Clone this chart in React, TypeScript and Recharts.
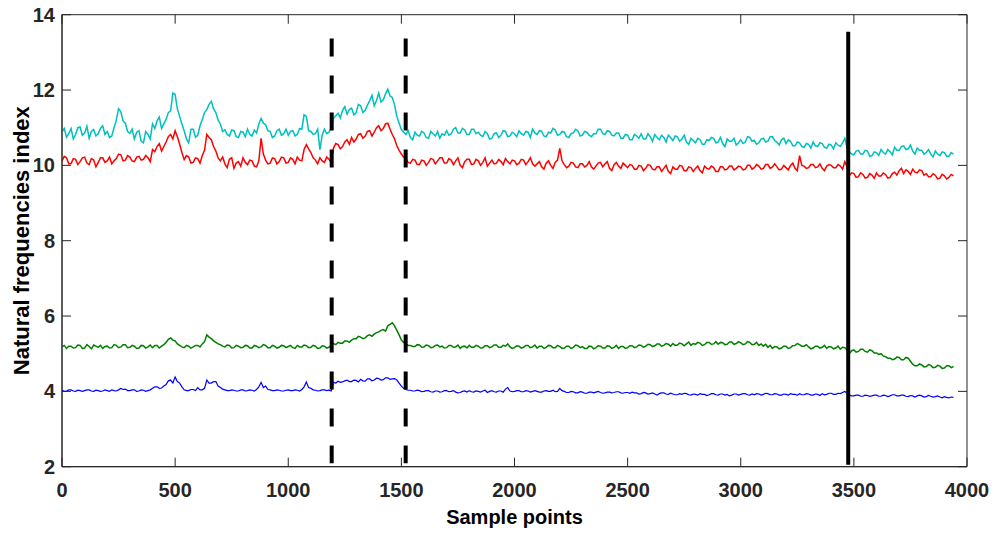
import React from 'react';
import { LineChart, Line, XAxis, YAxis, ReferenceLine, ReferenceArea, Label } from 'recharts';

// sample positions: every 10th sample point, starting at 0
const sampleStart = 0;
const sampleStep = 10;

const cyanSeries = [
  10.88, 10.98, 10.75, 10.84, 10.98, 10.7, 10.82, 11.0, 11.02, 10.8,
  10.86, 11.04, 10.72, 10.9, 10.95, 10.78, 10.84, 10.98, 11.05, 10.82,
  10.9, 10.74, 10.78, 11.0, 11.2, 11.5, 11.42, 11.18, 11.12, 10.9,
  10.85, 10.96, 10.7, 10.88, 10.92, 10.64, 10.6, 10.9, 10.82, 10.7,
  11.1, 10.98, 11.18, 11.28, 10.98, 11.1, 11.22, 11.4, 11.45, 11.92,
  11.88, 11.5, 11.3, 11.1, 10.92, 10.7, 10.6, 10.96, 10.96, 10.75,
  10.8, 11.05, 11.22, 11.4, 11.48, 11.62, 11.7, 11.5, 11.4, 11.2,
  11.1, 10.9, 10.95, 10.82, 10.78, 10.94, 10.92, 10.76, 10.74, 10.9,
  10.88, 10.76, 10.96, 10.82, 10.78, 10.94, 10.86, 11.1, 11.25, 11.12,
  11.08, 10.92, 10.9, 10.74, 10.78, 10.92, 10.96, 10.8, 10.84, 10.96,
  10.8, 10.9, 10.92, 10.78, 10.82, 10.98, 10.96, 11.34, 11.3, 10.92,
  10.9, 10.82, 10.84, 10.96, 10.42, 10.8, 10.96, 10.84, 10.88, 11.0,
  11.25, 11.32, 11.38, 11.26, 11.46, 11.56, 11.36, 11.48, 11.52, 11.34,
  11.4, 11.62, 11.58, 11.4, 11.46, 11.6, 11.72, 11.86, 11.58, 11.72,
  11.92, 11.68, 11.74, 11.9, 12.02, 11.84, 11.8, 11.6, 11.3, 11.12,
  10.95, 10.88, 10.82, 10.92, 10.74, 10.68, 10.88, 10.8, 10.78, 10.9,
  10.86, 10.74, 10.72, 10.9, 10.84, 10.78, 10.9, 10.72, 10.84, 10.8,
  10.92, 10.8, 10.84, 10.96, 11.0, 10.86, 10.86, 10.98, 10.94, 10.82,
  10.82, 10.96, 10.96, 10.84, 10.88, 10.8, 10.76, 10.9, 10.84, 10.7,
  10.72, 10.84, 10.86, 10.74, 10.8, 10.92, 10.9, 10.76, 10.78, 10.88,
  10.84, 10.76, 10.92, 10.84, 10.8, 10.9, 10.88, 10.74, 10.96, 10.86,
  10.82, 10.92, 10.9, 10.78, 10.76, 10.88, 10.86, 10.98, 10.94, 10.8,
  10.82, 10.9, 10.88, 10.76, 10.74, 10.84, 10.86, 10.96, 10.92, 10.78,
  10.8, 10.9, 10.88, 10.8, 10.76, 10.84, 10.84, 10.96, 10.96, 10.84,
  10.82, 10.92, 10.9, 10.8, 10.78, 10.86, 10.86, 10.72, 10.72, 10.82,
  10.8, 10.68, 10.68, 10.82, 10.78, 10.72, 10.84, 10.7, 10.7, 10.84,
  10.76, 10.64, 10.82, 10.74, 10.68, 10.8, 10.74, 10.62, 10.8, 10.74,
  10.66, 10.78, 10.76, 10.64, 10.7, 10.8, 10.62, 10.56, 10.72, 10.66,
  10.6, 10.72, 10.68, 10.56, 10.56, 10.68, 10.66, 10.74, 10.72, 10.6,
  10.62, 10.74, 10.58, 10.5, 10.7, 10.64, 10.64, 10.72, 10.54, 10.6,
  10.68, 10.58, 10.62, 10.76, 10.74, 10.64, 10.66, 10.56, 10.6, 10.7,
  10.72, 10.62, 10.64, 10.76, 10.76, 10.66, 10.62, 10.54, 10.68, 10.72,
  10.58, 10.68, 10.64, 10.52, 10.52, 10.62, 10.6, 10.5, 10.48, 10.58,
  10.56, 10.46, 10.62, 10.52, 10.5, 10.6, 10.58, 10.48, 10.46, 10.56,
  10.54, 10.44, 10.6, 10.54, 10.5, 10.6, 10.72, 10.46, 10.36, 10.3,
  10.28, 10.38, 10.4, 10.3, 10.3, 10.4, 10.38, 10.24, 10.26, 10.36,
  10.34, 10.26, 10.42, 10.34, 10.3, 10.42, 10.36, 10.28, 10.48, 10.4,
  10.4, 10.5, 10.52, 10.42, 10.44, 10.54, 10.38, 10.3, 10.46, 10.4,
  10.4, 10.3, 10.34, 10.42, 10.3, 10.22, 10.38, 10.3, 10.26, 10.36,
  10.34, 10.24, 10.24, 10.34, 10.3,
];

const redSeries = [
  10.12, 10.24, 10.2, 10.04, 10.05, 10.18, 10.16, 10.02, 10.1, 10.2,
  10.22, 10.06, 10.02, 10.18, 10.14, 9.96, 10.08, 10.2, 10.2, 10.08,
  10.12, 10.22, 10.04, 10.12, 10.18, 10.3, 10.28, 10.12, 10.14, 10.26,
  10.22, 10.12, 10.1, 10.22, 10.24, 10.14, 10.16, 10.26, 10.2, 10.1,
  10.42, 10.36, 10.5, 10.58, 10.38, 10.5, 10.62, 10.76, 10.82, 10.7,
  10.92, 10.76, 10.56, 10.34, 10.15, 10.26, 10.22, 10.06, 10.08, 10.2,
  10.18, 10.06, 10.26, 10.4, 10.82, 10.74, 10.68, 10.5, 10.38, 10.2,
  10.12, 10.22, 10.04, 9.94, 10.16, 10.2, 9.92, 10.06, 10.1, 9.98,
  10.2, 10.08, 10.02, 10.14, 10.12, 9.98, 9.96, 10.12, 10.72, 10.3,
  10.14, 10.04, 10.06, 10.2, 10.18, 10.04, 10.1, 10.22, 10.2, 10.06,
  10.08, 10.2, 10.16, 10.04, 10.22, 10.14, 10.12, 10.42, 10.55, 10.44,
  10.34, 10.2, 10.14, 10.04, 10.2, 10.12, 10.08, 10.22, 10.16, 10.08,
  10.46, 10.58, 10.55, 10.44, 10.5, 10.62, 10.68, 10.56, 10.74, 10.62,
  10.7, 10.82, 10.84, 10.72, 10.78, 10.9, 10.92, 10.78, 10.88, 11.0,
  11.05, 10.92, 10.98, 11.1, 11.12, 10.96, 10.82, 10.7, 10.52, 10.4,
  10.3, 10.22, 10.18, 10.08, 10.06, 10.16, 10.14, 10.02, 10.02, 10.14,
  10.12, 10.0, 10.08, 10.18, 10.16, 10.04, 10.12, 10.2, 10.2, 10.06,
  10.06, 10.18, 10.14, 10.02, 10.12, 10.2, 10.0, 9.94, 10.1, 10.16,
  10.16, 10.02, 10.04, 10.16, 10.12, 10.0, 10.08, 10.2, 9.98, 10.06,
  10.14, 10.04, 10.06, 10.16, 10.1, 10.02, 10.18, 10.1, 10.04, 10.14,
  10.12, 10.02, 10.06, 10.16, 10.14, 10.02, 10.1, 10.2, 10.04, 9.98,
  10.04, 10.1, 9.96, 9.9, 10.06, 10.12, 10.0, 9.92, 10.08, 10.14,
  10.45, 10.12, 10.02, 9.94, 9.98, 10.08, 10.06, 9.96, 9.94, 10.04,
  10.04, 9.96, 10.0, 10.1, 9.96, 9.9, 9.98, 10.06, 10.08, 9.96,
  10.04, 10.1, 9.92, 9.86, 10.02, 10.08, 9.98, 9.92, 10.06, 10.0,
  9.94, 10.02, 10.0, 9.9, 9.9, 10.0, 9.98, 9.86, 9.92, 10.02,
  10.0, 9.9, 9.88, 9.96, 9.96, 9.84, 9.92, 10.0, 9.84, 9.78,
  9.96, 9.9, 9.9, 10.0, 9.98, 9.86, 9.86, 9.96, 9.94, 9.84,
  9.92, 9.98, 9.86, 9.8, 9.98, 9.92, 9.9, 9.98, 9.94, 9.84,
  9.84, 9.96, 9.96, 9.88, 9.9, 9.98, 9.98, 9.88, 9.92, 9.98,
  9.96, 9.88, 9.9, 10.0, 10.0, 9.9, 9.94, 10.02, 9.98, 9.9,
  9.92, 10.02, 10.02, 9.92, 9.96, 10.04, 9.96, 9.88, 9.9, 10.0,
  9.94, 9.88, 10.0, 10.06, 9.92, 9.86, 10.26, 10.0, 9.98, 9.92,
  9.94, 10.02, 10.02, 9.94, 9.96, 10.04, 9.92, 9.86, 9.98, 10.02,
  10.0, 9.94, 9.94, 10.02, 9.98, 9.9, 10.1, 9.96, 9.72, 9.8,
  9.78, 9.68, 9.7, 9.8, 9.76, 9.66, 9.68, 9.78, 9.74, 9.66,
  9.8, 9.72, 9.72, 9.8, 9.76, 9.66, 9.68, 9.78, 9.82, 9.74,
  9.86, 9.92, 9.78, 9.88, 9.84, 9.76, 9.9, 9.82, 9.8, 9.88,
  9.86, 9.74, 9.78, 9.7, 9.7, 9.78, 9.74, 9.64, 9.66, 9.76,
  9.72, 9.64, 9.68, 9.76, 9.72,
];

const greenSeries = [
  5.18, 5.22, 5.14, 5.2, 5.2, 5.15, 5.16, 5.23, 5.22, 5.14,
  5.15, 5.24, 5.19, 5.13, 5.23, 5.2, 5.17, 5.22, 5.14, 5.19,
  5.2, 5.15, 5.16, 5.24, 5.22, 5.16, 5.18, 5.24, 5.24, 5.16,
  5.17, 5.22, 5.2, 5.14, 5.15, 5.22, 5.21, 5.15, 5.18, 5.23,
  5.16, 5.22, 5.22, 5.15, 5.2, 5.24, 5.3, 5.38, 5.42, 5.36,
  5.34, 5.26, 5.22, 5.18, 5.16, 5.22, 5.2, 5.15, 5.18, 5.22,
  5.22, 5.18, 5.26, 5.32, 5.5, 5.44, 5.4, 5.34, 5.3, 5.26,
  5.24, 5.2, 5.18, 5.23, 5.22, 5.15, 5.16, 5.22, 5.2, 5.16,
  5.17, 5.22, 5.21, 5.15, 5.15, 5.22, 5.2, 5.16, 5.18, 5.24,
  5.22, 5.16, 5.16, 5.22, 5.2, 5.15, 5.17, 5.22, 5.21, 5.16,
  5.19, 5.22, 5.16, 5.14, 5.22, 5.18, 5.18, 5.23, 5.21, 5.16,
  5.17, 5.22, 5.2, 5.14, 5.15, 5.21, 5.2, 5.15, 5.17, 5.22,
  5.27, 5.24, 5.3, 5.28, 5.28, 5.34, 5.34, 5.3, 5.36, 5.4,
  5.4, 5.46, 5.44, 5.4, 5.42, 5.48, 5.5, 5.46, 5.52, 5.56,
  5.58, 5.62, 5.64, 5.6, 5.74, 5.78, 5.82, 5.74, 5.62, 5.5,
  5.36, 5.3, 5.26, 5.22, 5.22, 5.19, 5.19, 5.24, 5.23, 5.17,
  5.18, 5.23, 5.21, 5.16, 5.17, 5.22, 5.23, 5.18, 5.2, 5.15,
  5.16, 5.22, 5.22, 5.17, 5.18, 5.23, 5.14, 5.19, 5.2, 5.15,
  5.22, 5.17, 5.17, 5.22, 5.2, 5.15, 5.16, 5.21, 5.21, 5.16,
  5.18, 5.23, 5.23, 5.17, 5.17, 5.22, 5.2, 5.26, 5.18, 5.14,
  5.16, 5.21, 5.2, 5.15, 5.17, 5.22, 5.22, 5.16, 5.18, 5.23,
  5.15, 5.2, 5.2, 5.14, 5.17, 5.22, 5.21, 5.16, 5.16, 5.22,
  5.19, 5.14, 5.15, 5.2, 5.2, 5.14, 5.17, 5.23, 5.21, 5.16,
  5.19, 5.14, 5.14, 5.2, 5.19, 5.13, 5.16, 5.21, 5.2, 5.15,
  5.15, 5.21, 5.2, 5.14, 5.17, 5.22, 5.14, 5.19, 5.19, 5.14,
  5.16, 5.21, 5.21, 5.16, 5.18, 5.23, 5.22, 5.17, 5.2, 5.25,
  5.24, 5.19, 5.21, 5.26, 5.26, 5.2, 5.22, 5.27, 5.25, 5.2,
  5.27, 5.22, 5.23, 5.28, 5.26, 5.21, 5.26, 5.31, 5.22, 5.27,
  5.25, 5.3, 5.28, 5.22, 5.24, 5.3, 5.3, 5.25, 5.26, 5.32,
  5.25, 5.3, 5.29, 5.24, 5.25, 5.31, 5.31, 5.25, 5.27, 5.32,
  5.29, 5.24, 5.26, 5.32, 5.3, 5.24, 5.25, 5.3, 5.22, 5.26,
  5.2, 5.25, 5.17, 5.22, 5.14, 5.19, 5.18, 5.13, 5.15, 5.2,
  5.2, 5.14, 5.16, 5.21, 5.22, 5.27, 5.24, 5.2, 5.2, 5.24,
  5.18, 5.13, 5.15, 5.2, 5.2, 5.15, 5.17, 5.22, 5.14, 5.19,
  5.18, 5.13, 5.15, 5.2, 5.12, 5.17, 5.16, 5.1, 5.0, 5.08,
  5.1, 5.04, 5.06, 5.12, 5.12, 5.06, 5.04, 5.1, 5.08, 5.02,
  5.02, 4.98, 5.0, 4.94, 4.92, 4.88, 4.88, 4.84, 4.86, 4.91,
  4.9, 4.84, 4.84, 4.9, 4.88, 4.8, 4.72, 4.68, 4.68, 4.73,
  4.7, 4.65, 4.66, 4.71, 4.69, 4.63, 4.64, 4.69, 4.67, 4.61,
  4.62, 4.68, 4.68, 4.63, 4.66,
];

const blueSeries = [
  4.03, 4.0, 4.01, 4.04, 4.04, 4.01, 4.0, 4.03, 4.02, 4.0,
  4.02, 4.04, 4.04, 4.01, 4.0, 4.03, 4.02, 4.0, 4.01, 4.04,
  4.02, 4.0, 4.04, 4.02, 4.01, 4.04, 4.08, 4.05, 4.06, 4.02,
  4.02, 4.04, 4.04, 4.0, 4.01, 4.04, 4.03, 4.0, 4.02, 4.04,
  4.08, 4.12, 4.12, 4.08, 4.09, 4.14, 4.18, 4.28, 4.3, 4.22,
  4.38, 4.26, 4.22, 4.12, 4.04, 4.02, 4.02, 4.05, 4.05, 4.02,
  4.1, 4.04, 4.04, 4.08, 4.3, 4.22, 4.22, 4.26, 4.26, 4.14,
  4.1, 4.06, 4.04, 4.02, 4.02, 4.04, 4.03, 4.01, 4.01, 4.04,
  4.04, 4.01, 4.02, 4.04, 4.03, 4.01, 4.05, 4.12, 4.24, 4.1,
  4.14, 4.05, 4.04, 4.02, 4.02, 4.04, 4.03, 4.01, 4.01, 4.03,
  4.04, 4.02, 4.02, 4.04, 4.03, 4.01, 4.05, 4.12, 4.25, 4.1,
  4.08, 4.04, 4.03, 4.01, 4.02, 4.04, 4.04, 4.02, 4.03, 4.01,
  4.24, 4.22, 4.27, 4.24, 4.25, 4.28, 4.3, 4.26, 4.26, 4.3,
  4.29, 4.25, 4.32, 4.28, 4.27, 4.33, 4.33, 4.28, 4.3, 4.35,
  4.34, 4.3, 4.31, 4.36, 4.36, 4.32, 4.33, 4.34, 4.3, 4.22,
  4.14, 4.08, 4.05, 4.03, 4.03, 4.01, 4.01, 4.03, 4.02, 3.99,
  4.0, 4.02, 4.02, 3.99, 3.98, 4.01, 4.01, 3.98, 3.99, 4.02,
  4.02, 3.99, 4.0, 4.02, 3.98, 3.96, 3.97, 4.0, 4.01, 3.98,
  4.02, 3.99, 3.98, 4.01, 4.0, 3.98, 4.01, 4.03, 3.97, 4.0,
  4.02, 3.99, 3.98, 4.01, 4.01, 3.98, 4.06, 4.1, 4.01, 3.99,
  4.0, 4.02, 4.02, 3.99, 3.99, 4.02, 4.01, 3.98, 4.0, 4.02,
  4.0, 3.98, 3.98, 4.01, 4.02, 4.0, 4.0, 4.03, 3.99, 4.0,
  4.08, 4.02, 4.0, 3.97, 3.97, 4.0, 3.99, 3.96, 3.96, 3.99,
  3.98, 3.95, 3.95, 3.98, 3.98, 3.96, 3.98, 4.0, 3.97, 3.95,
  3.96, 3.98, 3.98, 3.96, 3.97, 3.99, 3.99, 3.96, 3.95, 3.97,
  3.97, 3.95, 3.98, 3.96, 3.96, 3.93, 3.94, 3.97, 3.96, 3.93,
  3.94, 3.96, 3.93, 3.9, 3.94, 3.96, 3.96, 3.93, 3.92, 3.95,
  3.93, 3.91, 3.91, 3.94, 3.92, 3.95, 3.94, 3.91, 3.9, 3.93,
  3.92, 3.9, 3.94, 3.92, 3.92, 3.89, 3.91, 3.94, 3.94, 3.91,
  3.9, 3.93, 3.93, 3.9, 3.92, 3.88, 3.9, 3.93, 3.93, 3.9,
  3.92, 3.94, 3.94, 3.91, 3.9, 3.93, 3.91, 3.94, 3.93, 3.9,
  3.92, 3.95, 3.94, 3.91, 3.91, 3.94, 3.93, 3.9, 3.9, 3.93,
  3.92, 3.9, 3.94, 3.92, 3.92, 3.9, 3.94, 3.91, 3.91, 3.94,
  3.93, 3.9, 3.9, 3.93, 3.92, 3.89, 3.94, 3.91, 3.92, 3.95,
  3.95, 3.92, 3.92, 3.95, 3.94, 3.97, 4.0, 3.95, 3.9, 3.88,
  3.88, 3.9, 3.9, 3.87, 3.87, 3.9, 3.89, 3.87, 3.88, 3.9,
  3.9, 3.87, 3.87, 3.9, 3.89, 3.86, 3.88, 3.91, 3.91, 3.88,
  3.88, 3.9, 3.9, 3.87, 3.86, 3.89, 3.88, 3.85, 3.88, 3.9,
  3.88, 3.85, 3.86, 3.89, 3.87, 3.85, 3.86, 3.88, 3.85, 3.83,
  3.86, 3.84, 3.83, 3.85, 3.84,
];

const xTicks = [0, 500, 1000, 1500, 2000, 2500, 3000, 3500, 4000];
const yTicks = [2, 4, 6, 8, 10, 12, 14];
const xDomain = [0, 4000];
const yDomain = [2, 14];

// event markers: [sample position, lower value, upper value]
const dashedMarkers = [
  [1192, 2.09, 13.37],
  [1519, 2.09, 13.37],
];
const solidMarkers = [[3475, 2.05, 13.55]];

const data = cyanSeries.map((c, i) => ({
  x: sampleStart + i * sampleStep,
  cyan: c,
  red: redSeries[i],
  green: greenSeries[i],
  blue: blueSeries[i],
}));

const CHART_W = 995;
const CHART_H = 535;
const MARGIN = { top: 14.7, right: 28, left: 0, bottom: 0 };
const PLOT_W = CHART_W - MARGIN.right - 62;
const PLOT_H = CHART_H - MARGIN.top - 68.3;
// inward tick length (about 9 px) expressed in axis units
const TICK_PX = 9;
const TICK_DX = (TICK_PX / PLOT_W) * (xDomain[1] - xDomain[0]);
const TICK_DY = (TICK_PX / PLOT_H) * (yDomain[1] - yDomain[0]);

const FONT = '"Liberation Sans", Arial, Helvetica, sans-serif';
const TICK_COLOR = '#262626';
const tickTextStyle = { fill: TICK_COLOR, fontSize: 20, fontWeight: 700, fontFamily: FONT };

const makeXLabel = (value: number) => (props: any) => {
  const vb = props.viewBox || {};
  return (
    <text x={vb.x} y={vb.y + (vb.height || 0) + 30} textAnchor="middle" style={tickTextStyle}>
      {value}
    </text>
  );
};

const makeYLabel = (value: number) => (props: any) => {
  const vb = props.viewBox || {};
  return (
    <text x={vb.x - 7} y={vb.y + 7} textAnchor="end" style={tickTextStyle}>
      {value}
    </text>
  );
};

const renderXTitle = (props: any) => {
  const vb = props.viewBox || {};
  const cx = vb.x + vb.width / 2;
  return (
    <text x={cx} y={vb.y + 57.3} textAnchor="middle" style={{ fill: '#000', fontSize: 20, fontWeight: 700, fontFamily: FONT }}>
      Sample points
    </text>
  );
};

const renderYTitle = (props: any) => {
  const vb = props.viewBox || {};
  const cy = vb.y + vb.height / 2;
  const bx = 29;
  return (
    <text
      x={bx}
      y={cy}
      transform={`rotate(-90, ${bx}, ${cy})`}
      textAnchor="middle"
      style={{ fill: '#000', fontSize: 22, fontWeight: 700, fontFamily: FONT }}
    >
      Natural frequencies index
    </text>
  );
};

export default function App() {
  return (
    <div style={{ position: 'absolute', left: 0, top: 0, width: CHART_W, height: CHART_H, background: '#fff' }}>
      <LineChart width={CHART_W} height={CHART_H} data={data} margin={MARGIN}>
        <XAxis
          dataKey="x"
          type="number"
          domain={xDomain}
          ticks={xTicks}
          height={68.3}
          tick={false}
          tickLine={false}
          axisLine={{ stroke: TICK_COLOR, strokeWidth: 1 }}
        >
          <Label content={renderXTitle} />
        </XAxis>
        <YAxis
          type="number"
          domain={yDomain}
          ticks={yTicks}
          width={62}
          tick={false}
          tickLine={false}
          axisLine={{ stroke: TICK_COLOR, strokeWidth: 1 }}
        >
          <Label content={renderYTitle} />
        </YAxis>
        <ReferenceArea
          x1={xDomain[0]}
          x2={xDomain[1]}
          y1={yDomain[0]}
          y2={yDomain[1]}
          fill="none"
          fillOpacity={0}
          stroke={TICK_COLOR}
          strokeWidth={1}
        />
        {xTicks.map((t) => (
          <ReferenceLine
            key={`xb${t}`}
            segment={[{ x: t, y: yDomain[0] }, { x: t, y: yDomain[0] + TICK_DY }]}
            stroke={TICK_COLOR}
            strokeWidth={1}
            label={makeXLabel(t)}
          />
        ))}
        {xTicks.map((t) => (
          <ReferenceLine
            key={`xt${t}`}
            segment={[{ x: t, y: yDomain[1] - TICK_DY }, { x: t, y: yDomain[1] }]}
            stroke={TICK_COLOR}
            strokeWidth={1}
          />
        ))}
        {yTicks.map((t) => (
          <ReferenceLine
            key={`yl${t}`}
            segment={[{ x: xDomain[0], y: t }, { x: xDomain[0] + TICK_DX, y: t }]}
            stroke={TICK_COLOR}
            strokeWidth={1}
            label={makeYLabel(t)}
          />
        ))}
        {yTicks.map((t) => (
          <ReferenceLine
            key={`yr${t}`}
            segment={[{ x: xDomain[1] - TICK_DX, y: t }, { x: xDomain[1], y: t }]}
            stroke={TICK_COLOR}
            strokeWidth={1}
          />
        ))}
        <Line dataKey="blue" stroke="#0000FF" strokeWidth={1.2} dot={false} type="linear" isAnimationActive={false} />
        <Line dataKey="green" stroke="#008000" strokeWidth={1.5} dot={false} type="linear" isAnimationActive={false} />
        <Line dataKey="red" stroke="#FF0000" strokeWidth={1.5} dot={false} type="linear" isAnimationActive={false} />
        <Line dataKey="cyan" stroke="#00BFBF" strokeWidth={1.5} dot={false} type="linear" isAnimationActive={false} />
        {dashedMarkers.map(([mx, lo, hi], i) => (
          <ReferenceLine
            key={`d${i}`}
            segment={[{ x: mx, y: hi }, { x: mx, y: lo }]}
            stroke="#000"
            strokeWidth={4}
            strokeDasharray="18 19"
          />
        ))}
        {solidMarkers.map(([mx, lo, hi], i) => (
          <ReferenceLine key={`s${i}`} segment={[{ x: mx, y: hi }, { x: mx, y: lo }]} stroke="#000" strokeWidth={4} />
        ))}
      </LineChart>
    </div>
  );
}
